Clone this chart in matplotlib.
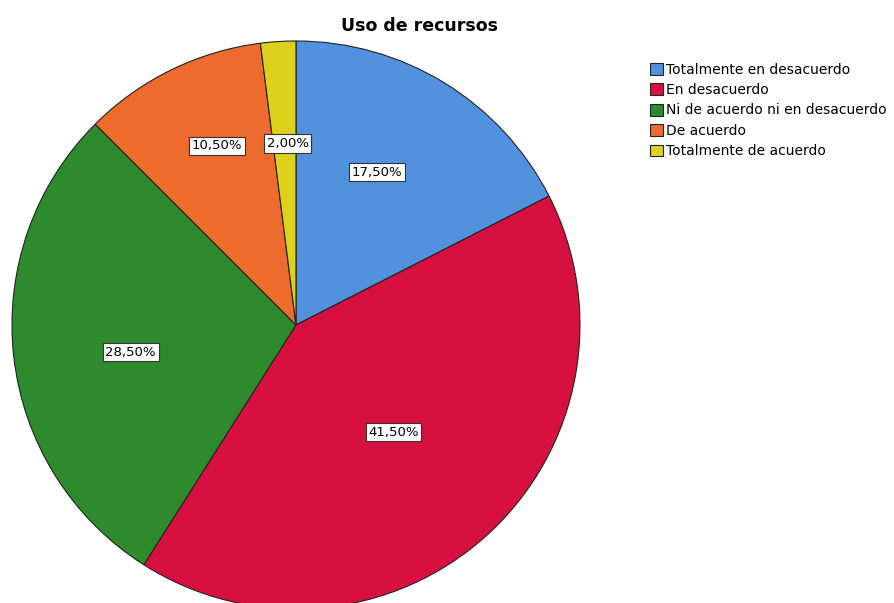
import matplotlib
matplotlib.use('Agg')
import matplotlib.pyplot as plt
import numpy as np

categorias = ['Totalmente en desacuerdo', 'En desacuerdo', 'Ni de acuerdo ni en desacuerdo',
              'De acuerdo', 'Totalmente de acuerdo']
porcentajes = [17.5, 41.5, 28.5, 10.5, 2.0]
colores = ['#5291de', '#d8103f', '#2d8a2d', '#ec6b2d', '#ddd11c']
# label placement: distance from centre (fraction of radius) and angle shift (deg)
dist_etiquetas = [0.61, 0.51, 0.59, 0.69, 0.64]
giro_etiquetas = [3.5, 0.0, 3.0, -2.3, -1.0]

fig = plt.figure(figsize=(8.95, 6.03), dpi=100)
fig.patch.set_facecolor('white')

ax = fig.add_axes([0.0134, -0.00995, 0.6346, 0.942])
wedges, _ = ax.pie(porcentajes, colors=colores, startangle=90, counterclock=False,
                   radius=1, wedgeprops=dict(edgecolor='#222222', linewidth=0.8))
ax.set_xlim(-1, 1)
ax.set_ylim(-1, 1)
ax.set_aspect('equal')

for w, p, d, g in zip(wedges, porcentajes, dist_etiquetas, giro_etiquetas):
    ang = np.deg2rad((w.theta1 + w.theta2) / 2 + g)
    ax.text(d * np.cos(ang), d * np.sin(ang), ('%.2f%%' % p).replace('.', ','),
            ha='center', va='center', fontsize=9.5, color='black',
            bbox=dict(boxstyle='square,pad=0.2', facecolor='white', edgecolor='#333333', linewidth=0.8))

fig.text(0.469, 0.957, 'Uso de recursos', ha='center', va='center', fontsize=12.5, fontweight='bold')

leg = fig.legend(wedges, categorias, loc='upper left', bbox_to_anchor=(0.726, 0.896),
                 frameon=False, fontsize=10, handlelength=0.95, handleheight=0.95,
                 handletextpad=0.2, labelspacing=0.46, borderpad=0, borderaxespad=0)
for h in leg.legend_handles:
    h.set_edgecolor('#222222')
    h.set_linewidth(0.8)

plt.savefig('out.png', dpi=100, facecolor='white')
